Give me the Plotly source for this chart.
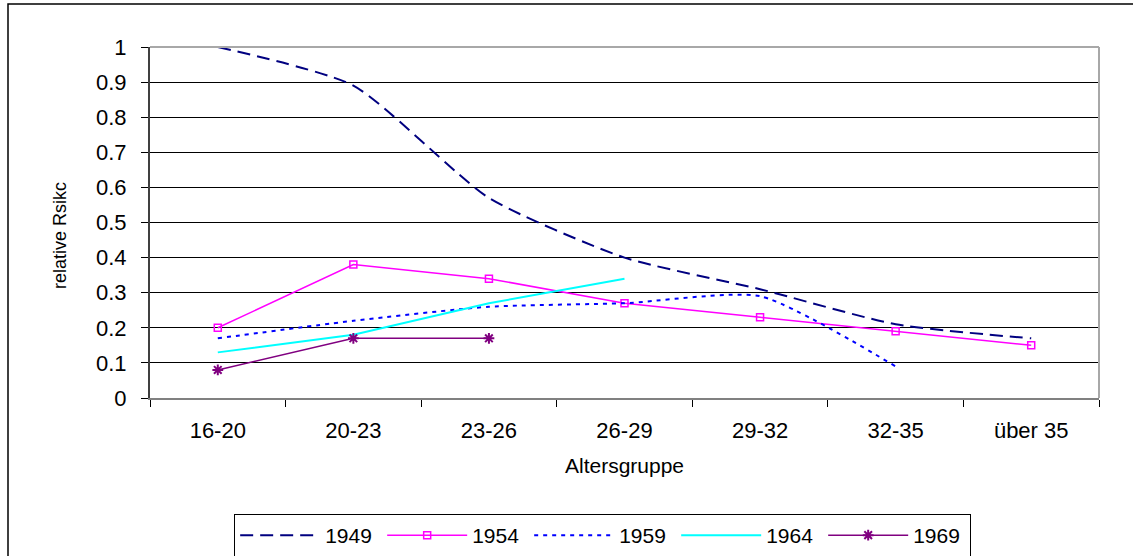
import plotly.graph_objects as go

categories = ["16-20", "20-23", "23-26", "26-29", "29-32", "32-35", "über 35"]
y1949 = [1.0, 0.89, 0.57, 0.40, 0.31, 0.21, 0.17]
y1954 = [0.20, 0.38, 0.34, 0.27, 0.23, 0.19, 0.15]
y1959 = [0.17, 0.22, 0.26, 0.27, 0.29, 0.09, None]
y1964 = [0.13, 0.18, 0.27, 0.34, None, None, None]
y1969 = [0.08, 0.17, 0.17, None, None, None, None]
yticks = [0, 0.1, 0.2, 0.3, 0.4, 0.5, 0.6, 0.7, 0.8, 0.9, 1]
ytick_labels = ["0", "0.1", "0.2", "0.3", "0.4", "0.5", "0.6", "0.7", "0.8", "0.9", "1"]

FONT = "Arial, Liberation Sans, sans-serif"

fig = go.Figure()
fig.add_trace(go.Scatter(x=categories, y=y1949, name="1949", mode="lines",
                         line=dict(color="#000080", width=2, dash="13px,7px", shape="spline", smoothing=0.6)))
fig.add_trace(go.Scatter(x=categories, y=y1954, name="1954", mode="lines+markers",
                         line=dict(color="#FF00FF", width=1.5),
                         marker=dict(symbol="square-open", size=7, color="#FF00FF", line=dict(width=1.5))))
fig.add_trace(go.Scatter(x=categories, y=y1959, name="1959", mode="lines",
                         line=dict(color="#0000FF", width=2, dash="4px,5px", shape="spline", smoothing=0.6)))
fig.add_trace(go.Scatter(x=categories, y=y1964, name="1964", mode="lines",
                         line=dict(color="#00FFFF", width=2)))
fig.add_trace(go.Scatter(x=categories, y=y1969, name="1969", mode="lines+markers",
                         line=dict(color="#800080", width=1.5),
                         marker=dict(symbol="asterisk-open", size=9, color="#800080", line=dict(width=2, color="#800080"))))

# plot area: x 150..1099, y 47..398
L, R, T, B = 150, 1099, 47, 398
pw, ph = R - L, B - T

def px(x):
    return (x - L) / pw

def py(y):
    return (B - y) / ph

fig.update_layout(
    width=1133, height=556,
    margin=dict(l=L, r=1133 - R, t=T, b=556 - B, autoexpand=False),
    paper_bgcolor="white", plot_bgcolor="white",
    font=dict(family=FONT, color="black", size=21),
    showlegend=True,
    legend=dict(orientation="h", x=0.477, xanchor="center", y=py(514), yanchor="top",
                bordercolor="black", borderwidth=1, bgcolor="white",
                font=dict(size=21), itemwidth=80, entrywidth=52, tracegroupgap=0),
    xaxis=dict(type="category", range=[-0.5, 6.5], showgrid=False, zeroline=False,
               showline=True, linecolor="#808080", linewidth=2,
               ticks="outside", tickson="boundaries", ticklen=7, tickcolor="black", tickwidth=1,
               tickfont=dict(size=22), ticklabelstandoff=12,
               title=dict(text="Altersgruppe", font=dict(size=21), standoff=16)),
    yaxis=dict(range=[0, 1], tickvals=yticks, ticktext=ytick_labels,
               showgrid=True, gridcolor="black", gridwidth=1, zeroline=False,
               showline=True, linecolor="#404040", linewidth=2,
               ticks="outside", ticklen=7, tickcolor="black", tickwidth=1,
               tickfont=dict(size=22), ticklabelstandoff=10),
    annotations=[
        dict(text="relative Rsikc", xref="paper", yref="paper", x=px(60), y=py(236),
             xanchor="center", yanchor="middle", textangle=-90, showarrow=False,
             font=dict(size=18, family=FONT, color="black")),
    ],
    shapes=[
        # plot area border (top and right)
        dict(type="line", xref="paper", yref="paper", x0=0, x1=1, y0=1, y1=1,
             line=dict(color="#A8A8A8", width=2)),
        dict(type="line", xref="paper", yref="paper", x0=1, x1=1, y0=0, y1=1,
             line=dict(color="#A8A8A8", width=2)),
        # outer chart border
        dict(type="rect", xref="paper", yref="paper", x0=px(8), x1=px(1140), y0=py(4), y1=py(570),
             line=dict(color="black", width=1.5), fillcolor="rgba(0,0,0,0)", layer="below"),
    ],
)

fig.write_html("out.html", config={"displayModeBar": False},
               post_script="document.body.style.margin='0';document.body.style.overflow='hidden';")
